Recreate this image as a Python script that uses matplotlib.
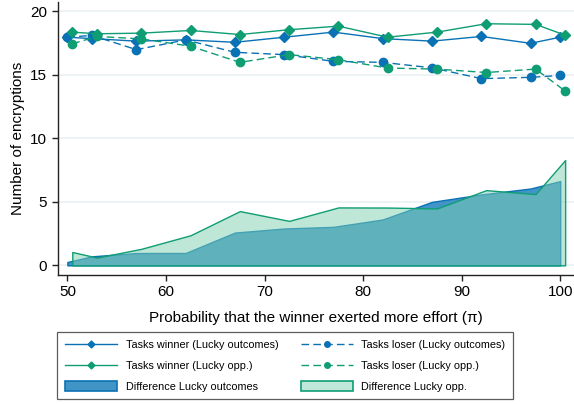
import matplotlib
matplotlib.use("Agg")
import matplotlib.pyplot as plt
from matplotlib.lines import Line2D
from matplotlib.patches import Patch

plt.rcParams["font.family"] = ["Liberation Sans", "DejaVu Sans"]

# probability levels (the "lucky opp." series is shifted by half a point)
x_outcomes = [50, 52.5, 57, 62, 67, 72, 77, 82, 87, 92, 97, 100]
x_opp = [50.5, 53, 57.5, 62.5, 67.5, 72.5, 77.5, 82.5, 87.5, 92.5, 97.5, 100.5]

winner_outcomes = [17.96, 17.85, 17.65, 17.75, 17.56, 17.96, 18.36, 17.85, 17.65, 18.02, 17.48, 17.96]
loser_outcomes = [17.96, 18.10, 16.98, 17.75, 16.77, 16.59, 16.06, 15.98, 15.55, 14.70, 14.80, 14.95]
winner_opp = [18.36, 18.23, 18.28, 18.49, 18.17, 18.55, 18.83, 17.96, 18.36, 19.02, 18.97, 18.12]
loser_opp = [17.44, 18.02, 17.83, 17.25, 15.98, 16.59, 16.19, 15.53, 15.45, 15.18, 15.45, 13.73]

diff_outcomes = [0.26, 0.71, 0.97, 0.97, 2.58, 2.90, 3.03, 3.61, 5.00, 5.58, 6.05, 6.63]
diff_opp = [1.05, 0.61, 1.30, 2.37, 4.27, 3.50, 4.56, 4.55, 4.48, 5.92, 5.61, 8.29]

x_ticks = [50, 60, 70, 80, 90, 100]
y_ticks = [0, 5, 10, 15, 20]

BLUE = "#0a72b4"
GREEN = "#0f9d74"
BLUE_FILL = "#4195c6"
GREEN_FILL = (126 / 255, 208 / 255, 179 / 255, 0.5)

fig = plt.figure(figsize=(5.74, 4.04), dpi=100)
ax = fig.add_axes([0.1002, 0.3193, 0.8998, 0.6757])

ax.fill_between(x_outcomes, 0, diff_outcomes, facecolor=BLUE_FILL, edgecolor=BLUE, linewidth=1.0, zorder=2)
ax.fill_between(x_opp, 0, diff_opp, facecolor=GREEN_FILL, edgecolor=GREEN, linewidth=1.0, zorder=3)

dash = (0, (5.5, 3))
ax.plot(x_outcomes, winner_outcomes, color=BLUE, lw=1.0, marker="D", ms=5.3, zorder=4)
ax.plot(x_outcomes, loser_outcomes, color=BLUE, lw=1.0, ls=dash, marker="o", ms=6, zorder=4)
ax.plot(x_opp, winner_opp, color=GREEN, lw=1.0, marker="D", ms=5.3, zorder=5)
ax.plot(x_opp, loser_opp, color=GREEN, lw=1.0, ls=dash, marker="o", ms=6, zorder=5)

ax.set_xlim(49.0, 101.4)
ax.set_ylim(-0.76, 20.73)
ax.set_xticks(x_ticks)
ax.set_yticks(y_ticks)
ax.tick_params(labelsize=11, length=4, width=1.0, color="#222222")
ax.grid(axis="y", color="#eaf1f2", linewidth=1.2, zorder=0)
ax.set_axisbelow(True)
for s in ["top", "right"]:
    ax.spines[s].set_visible(False)
for s in ["left", "bottom"]:
    ax.spines[s].set_linewidth(1.0)
    ax.spines[s].set_color("#222222")

ax.set_ylabel("Number of encryptions", fontsize=11)
ax.set_xlabel("Probability that the winner exerted more effort (\u03c0)", fontsize=11, labelpad=8)

# legend proxies, filled column-wise for a 2x3 layout
handles = [
    Line2D([], [], color=BLUE, lw=1.0, marker="D", ms=3.5),
    Line2D([], [], color=GREEN, lw=1.0, marker="D", ms=3.5),
    Patch(facecolor=BLUE_FILL, edgecolor=BLUE, linewidth=1.2),
    Line2D([], [], color=BLUE, lw=1.0, ls=dash, marker="o", ms=4),
    Line2D([], [], color=GREEN, lw=1.0, ls=dash, marker="o", ms=4),
    Patch(facecolor=(192 / 255, 232 / 255, 218 / 255), edgecolor=GREEN, linewidth=1.2),
]
labels = [
    "Tasks winner (Lucky outcomes)",
    "Tasks winner (Lucky opp.)",
    "Difference Lucky outcomes",
    "Tasks loser (Lucky outcomes)",
    "Tasks loser (Lucky opp.)",
    "Difference Lucky opp.",
]
leg = fig.legend(handles, labels, ncol=2, loc="upper left",
                 bbox_to_anchor=(57.5 / 574, 3 / 404, (513 - 57.5) / 574, (401 - 332) / 404),
                 mode="expand", borderaxespad=0, fontsize=7.8, handlelength=4.8, handleheight=1.0,
                 handletextpad=0.8, labelspacing=0.95, borderpad=0.7,
                 frameon=True, fancybox=False, edgecolor="#333333")
leg.get_frame().set_linewidth(0.9)

fig.savefig("out.png", dpi=100)
